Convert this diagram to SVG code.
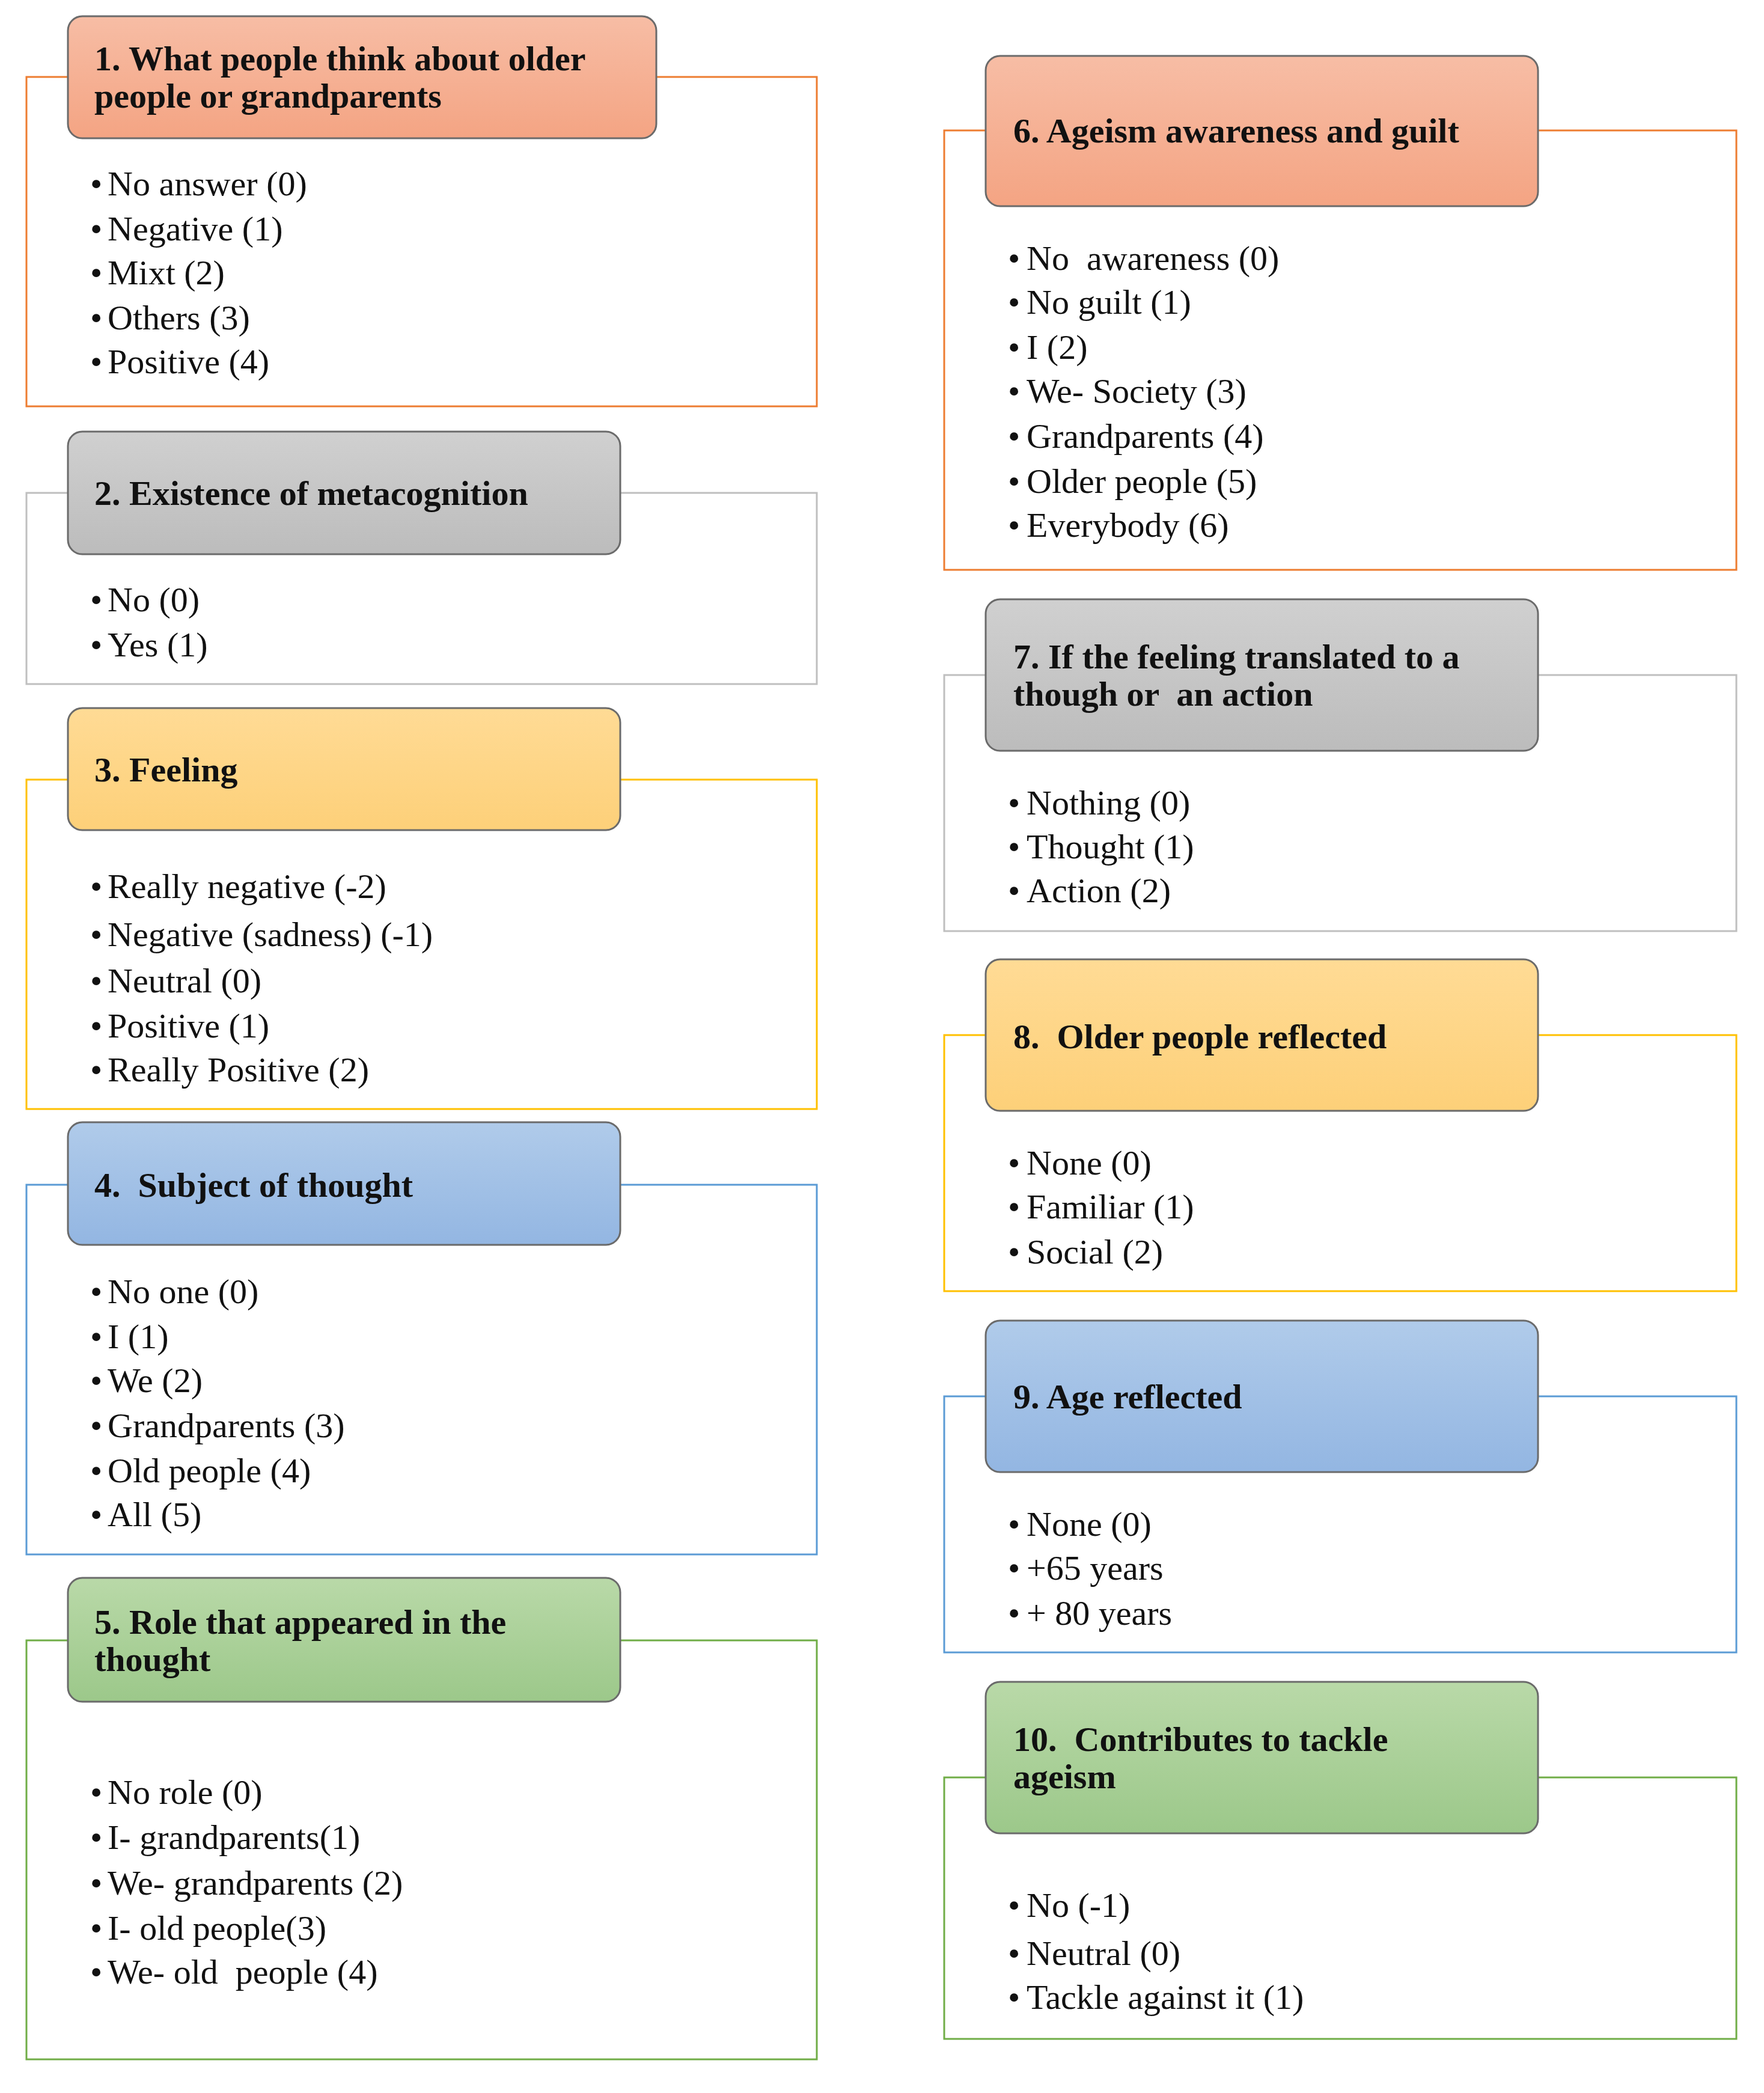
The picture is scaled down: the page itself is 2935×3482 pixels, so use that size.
<svg xmlns="http://www.w3.org/2000/svg" width="2935" height="3482" viewBox="0 0 2935 3482">
<defs>
<linearGradient id="gO" x1="0" y1="0" x2="0" y2="1"><stop offset="0" stop-color="#f7bda5"/><stop offset="1" stop-color="#f4a483"/></linearGradient>
<linearGradient id="gG" x1="0" y1="0" x2="0" y2="1"><stop offset="0" stop-color="#d0d0d0"/><stop offset="1" stop-color="#bcbcbc"/></linearGradient>
<linearGradient id="gY" x1="0" y1="0" x2="0" y2="1"><stop offset="0" stop-color="#ffdb95"/><stop offset="1" stop-color="#fdd079"/></linearGradient>
<linearGradient id="gB" x1="0" y1="0" x2="0" y2="1"><stop offset="0" stop-color="#b0cbea"/><stop offset="1" stop-color="#93b6e2"/></linearGradient>
<linearGradient id="gN" x1="0" y1="0" x2="0" y2="1"><stop offset="0" stop-color="#b9d9a8"/><stop offset="1" stop-color="#9cc88a"/></linearGradient>
</defs>
<style>
.o{fill:#fff;stroke-width:3}
.h{stroke:#6b6b6b;stroke-width:3}
.ht{font-family:"Liberation Serif",serif;font-weight:bold;font-size:58px;fill:#111;white-space:pre}
.it{font-family:"Liberation Serif",serif;font-size:58px;fill:#111;white-space:pre}
</style>
<rect width="2935" height="3482" fill="#fff"/>
<g id="n1">
<rect class="o" x="44" y="128" width="1315" height="548" stroke="#ED7D31"/>
<rect class="h" x="113" y="27" width="979" height="203" rx="24" fill="url(#gO)"/>
<text class="ht" x="157" y="117">1. What people think about older</text>
<text class="ht" x="157" y="179">people or grandparents</text>
<text class="it" x="150" y="325">•</text><text class="it" x="179" y="325">No answer (0)</text>
<text class="it" x="150" y="400">•</text><text class="it" x="179" y="400">Negative (1)</text>
<text class="it" x="150" y="473">•</text><text class="it" x="179" y="473">Mixt (2)</text>
<text class="it" x="150" y="548">•</text><text class="it" x="179" y="548">Others (3)</text>
<text class="it" x="150" y="621">•</text><text class="it" x="179" y="621">Positive (4)</text>
</g>
<g id="n2">
<rect class="o" x="44" y="820" width="1315" height="318" stroke="#bfbfbf"/>
<rect class="h" x="113" y="718" width="919" height="204" rx="24" fill="url(#gG)"/>
<text class="ht" x="157" y="840">2. Existence of metacognition</text>
<text class="it" x="150" y="1017">•</text><text class="it" x="179" y="1017">No (0)</text>
<text class="it" x="150" y="1092">•</text><text class="it" x="179" y="1092">Yes (1)</text>
</g>
<g id="n3">
<rect class="o" x="44" y="1297" width="1315" height="548" stroke="#FFC000"/>
<rect class="h" x="113" y="1178" width="919" height="203" rx="24" fill="url(#gY)"/>
<text class="ht" x="157" y="1300">3. Feeling</text>
<text class="it" x="150" y="1494">•</text><text class="it" x="179" y="1494">Really negative (-2)</text>
<text class="it" x="150" y="1574">•</text><text class="it" x="179" y="1574">Negative (sadness) (-1)</text>
<text class="it" x="150" y="1651">•</text><text class="it" x="179" y="1651">Neutral (0)</text>
<text class="it" x="150" y="1726">•</text><text class="it" x="179" y="1726">Positive (1)</text>
<text class="it" x="150" y="1799">•</text><text class="it" x="179" y="1799">Really Positive (2)</text>
</g>
<g id="n4">
<rect class="o" x="44" y="1971" width="1315" height="615" stroke="#5B9BD5"/>
<rect class="h" x="113" y="1867" width="919" height="204" rx="24" fill="url(#gB)"/>
<text class="ht" x="157" y="1991">4.  Subject of thought</text>
<text class="it" x="150" y="2168">•</text><text class="it" x="179" y="2168">No one (0)</text>
<text class="it" x="150" y="2243">•</text><text class="it" x="179" y="2243">I (1)</text>
<text class="it" x="150" y="2316">•</text><text class="it" x="179" y="2316">We (2)</text>
<text class="it" x="150" y="2391">•</text><text class="it" x="179" y="2391">Grandparents (3)</text>
<text class="it" x="150" y="2466">•</text><text class="it" x="179" y="2466">Old people (4)</text>
<text class="it" x="150" y="2539">•</text><text class="it" x="179" y="2539">All (5)</text>
</g>
<g id="n5">
<rect class="o" x="44" y="2729" width="1315" height="697" stroke="#70AD47"/>
<rect class="h" x="113" y="2625" width="919" height="206" rx="24" fill="url(#gN)"/>
<text class="ht" x="157" y="2718">5. Role that appeared in the</text>
<text class="ht" x="157" y="2780">thought</text>
<text class="it" x="150" y="3001">•</text><text class="it" x="179" y="3001">No role (0)</text>
<text class="it" x="150" y="3076">•</text><text class="it" x="179" y="3076">I- grandparents(1)</text>
<text class="it" x="150" y="3152">•</text><text class="it" x="179" y="3152">We- grandparents (2)</text>
<text class="it" x="150" y="3227">•</text><text class="it" x="179" y="3227">I- old people(3)</text>
<text class="it" x="150" y="3300">•</text><text class="it" x="179" y="3300">We- old  people (4)</text>
</g>
<g id="n6">
<rect class="o" x="1571" y="217" width="1318" height="731" stroke="#ED7D31"/>
<rect class="h" x="1640" y="93" width="919" height="250" rx="24" fill="url(#gO)"/>
<text class="ht" x="1686" y="237">6. Ageism awareness and guilt</text>
<text class="it" x="1677" y="449">•</text><text class="it" x="1708" y="449">No  awareness (0)</text>
<text class="it" x="1677" y="522">•</text><text class="it" x="1708" y="522">No guilt (1)</text>
<text class="it" x="1677" y="597">•</text><text class="it" x="1708" y="597">I (2)</text>
<text class="it" x="1677" y="670">•</text><text class="it" x="1708" y="670">We- Society (3)</text>
<text class="it" x="1677" y="745">•</text><text class="it" x="1708" y="745">Grandparents (4)</text>
<text class="it" x="1677" y="820">•</text><text class="it" x="1708" y="820">Older people (5)</text>
<text class="it" x="1677" y="893">•</text><text class="it" x="1708" y="893">Everybody (6)</text>
</g>
<g id="n7">
<rect class="o" x="1571" y="1123" width="1318" height="426" stroke="#bfbfbf"/>
<rect class="h" x="1640" y="997" width="919" height="252" rx="24" fill="url(#gG)"/>
<text class="ht" x="1686" y="1112">7. If the feeling translated to a</text>
<text class="ht" x="1686" y="1174">though or  an action</text>
<text class="it" x="1677" y="1355">•</text><text class="it" x="1708" y="1355">Nothing (0)</text>
<text class="it" x="1677" y="1428">•</text><text class="it" x="1708" y="1428">Thought (1)</text>
<text class="it" x="1677" y="1501">•</text><text class="it" x="1708" y="1501">Action (2)</text>
</g>
<g id="n8">
<rect class="o" x="1571" y="1722" width="1318" height="426" stroke="#FFC000"/>
<rect class="h" x="1640" y="1596" width="919" height="252" rx="24" fill="url(#gY)"/>
<text class="ht" x="1686" y="1744">8.  Older people reflected</text>
<text class="it" x="1677" y="1954">•</text><text class="it" x="1708" y="1954">None (0)</text>
<text class="it" x="1677" y="2027">•</text><text class="it" x="1708" y="2027">Familiar (1)</text>
<text class="it" x="1677" y="2102">•</text><text class="it" x="1708" y="2102">Social (2)</text>
</g>
<g id="n9">
<rect class="o" x="1571" y="2323" width="1318" height="426" stroke="#5B9BD5"/>
<rect class="h" x="1640" y="2197" width="919" height="252" rx="24" fill="url(#gB)"/>
<text class="ht" x="1686" y="2343">9. Age reflected</text>
<text class="it" x="1677" y="2555">•</text><text class="it" x="1708" y="2555">None (0)</text>
<text class="it" x="1677" y="2628">•</text><text class="it" x="1708" y="2628">+65 years</text>
<text class="it" x="1677" y="2703">•</text><text class="it" x="1708" y="2703">+ 80 years</text>
</g>
<g id="n10">
<rect class="o" x="1571" y="2957" width="1318" height="435" stroke="#70AD47"/>
<rect class="h" x="1640" y="2798" width="919" height="252" rx="24" fill="url(#gN)"/>
<text class="ht" x="1686" y="2913">10.  Contributes to tackle</text>
<text class="ht" x="1686" y="2975">ageism</text>
<text class="it" x="1677" y="3189">•</text><text class="it" x="1708" y="3189">No (-1)</text>
<text class="it" x="1677" y="3269">•</text><text class="it" x="1708" y="3269">Neutral (0)</text>
<text class="it" x="1677" y="3342">•</text><text class="it" x="1708" y="3342">Tackle against it (1)</text>
</g>
<g id="connectors"/>
</svg>
